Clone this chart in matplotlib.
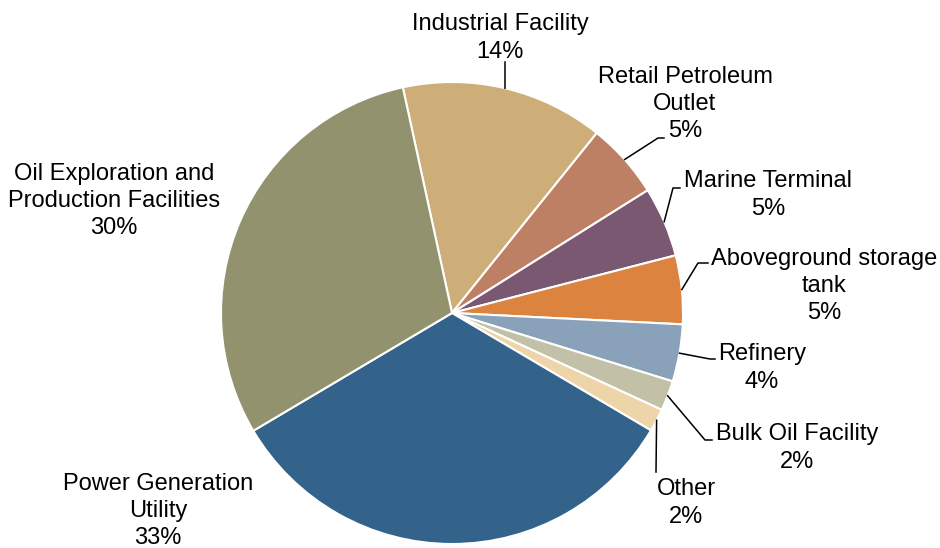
import numpy as np
import matplotlib
matplotlib.use("Agg")
from matplotlib import pyplot as plt

plt.rcParams['font.family'] = ['Liberation Sans', 'DejaVu Sans']

categories = ['Industrial Facility', 'Retail Petroleum\nOutlet', 'Marine Terminal',
              'Aboveground storage\ntank', 'Refinery', 'Bulk Oil Facility', 'Other',
              'Power Generation\nUtility', 'Oil Exploration and\nProduction Facilities']
shares = [14.2, 5.3, 4.9, 4.8, 4.0, 2.1, 1.6, 33.0, 30.1]
colors = ['#CDAE78', '#BE8064', '#7A5872', '#DC843F', '#8AA1BA',
          '#C2C1A7', '#EDD4A9', '#33628A', '#92926F']

W, H = 940, 548
CX, CY, R = 452, 313, 231

# label layout in pixel coords (origin top-left): text centre, leader elbow, leader end
label_pos = [(500, 38), (685, 104), (768, 195), (824, 286), (762, 368),
             (797, 448), (686, 503), (158, 511), (114, 201)]
leader_pts = [[(505, 62)], [(658, 138), (664, 138)], [(673, 188), (680, 188)],
              [(698, 263), (708, 263)], [(710, 359), (715, 359)],
              [(705, 440), (712, 440)], [(656, 472)], None, None]


def px(p):
    return p[0], H - p[1]


def main():
    fig = plt.figure(figsize=(W / 100, H / 100), dpi=100)
    ax = fig.add_axes([0, 0, 1, 1])
    wedges, _ = ax.pie(shares, colors=colors, startangle=102.3, counterclock=False,
                       center=(CX, H - CY), radius=R,
                       wedgeprops=dict(edgecolor='white', linewidth=1.5))
    ax.set_xlim(0, W)
    ax.set_ylim(0, H)
    ax.set_aspect('equal')
    ax.axis('off')

    for w, name, v, pos, pts in zip(wedges, categories, shares, label_pos, leader_pts):
        ax.text(*px(pos), f"{name}\n{round(v)}%", ha='center', va='center',
                multialignment='center', fontsize=17, color='#000000', linespacing=1.3)
        if pts is None:
            continue
        mid = np.deg2rad((w.theta1 + w.theta2) / 2)
        start = (CX + R * np.cos(mid), H - CY + R * np.sin(mid))
        xs = [start[0]] + [px(p)[0] for p in pts]
        ys = [start[1]] + [px(p)[1] for p in pts]
        ax.plot(xs, ys, color='#000000', linewidth=1.1)

    fig.savefig('out.png', dpi=100)


if __name__ == "__main__":
    main()
